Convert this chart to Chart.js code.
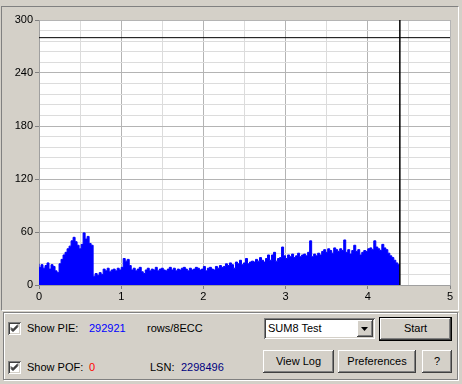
<!DOCTYPE html>
<html>
<head>
<meta charset="utf-8">
<script src="https://cdn.jsdelivr.net/npm/chart.js@4"></script>
<style>
  html, body { margin: 0; padding: 0; }
  body { width: 462px; height: 384px; background: #d4d0c8; position: relative; overflow: hidden;
         font: 11px "Liberation Sans", Arial, sans-serif; color: #000; }
  .abs { position: absolute; }
  #chartPanel { left: 1px; top: 6px; width: 456px; height: 303px;
                border-top: 1px solid #808080; border-left: 1px solid #808080;
                border-right: 1px solid #fff; border-bottom: 1px solid #fff; }
  #ctrlPanel { left: 3px; top: 312px; width: 453px; height: 66px;
               border: 1px solid #808080; box-shadow: inset 1px 1px 0 #fff, 1px 1px 0 #fff; }
  canvas { position: absolute; left: 0; top: 0; }
  .chk { width: 13px; height: 13px; background: #fff; box-sizing: border-box;
         box-shadow: inset 1px 1px 0 #808080, inset -1px -1px 0 #fff, inset 2px 2px 0 #404040, inset -2px -2px 0 #d4d0c8; }
  .chk svg { position: absolute; left: 0; top: 0; }
  .lbl { line-height: 13px; white-space: nowrap; }
  .btn { box-sizing: border-box; background: #d4d0c8; text-align: center; line-height: 23px;
         box-shadow: inset -1px -1px 0 #404040, inset 1px 1px 0 #fff, inset -2px -2px 0 #808080, inset 2px 2px 0 #d4d0c8; }
  .btn.def { border: 1px solid #000; line-height: 21px; }
  .combo { box-sizing: border-box; background: #fff;
           box-shadow: inset 1px 1px 0 #808080, inset -1px -1px 0 #fff, inset 2px 2px 0 #404040, inset -2px -2px 0 #d4d0c8; }
  .arrow { box-sizing: border-box; background: #d4d0c8;
           box-shadow: inset -1px -1px 0 #404040, inset 1px 1px 0 #fff, inset -2px -2px 0 #808080; }
</style>
</head>
<body>
<div id="chartPanel" class="abs"></div>
<canvas id="pieChart" width="462" height="310"></canvas>

<div id="ctrlPanel" class="abs"></div>

<div class="abs chk" style="left:8px; top:322px;"><svg width="13" height="13"><path d="M3 5.5 L5 7.5 L10 2.5 M3 6.5 L5 8.5 L10 3.5 M3 7.5 L5 9.5 L10 4.5" stroke="#000" stroke-width="1" fill="none"/></svg></div>
<div class="abs lbl" style="left:27px; top:322px;">Show PIE:</div>
<div class="abs lbl" id="pieTotal" style="left:89px; top:322px; color:#0000ff;"></div>
<div class="abs lbl" style="left:147px; top:322px;">rows/8ECC</div>

<div class="abs chk" style="left:8px; top:361px;"><svg width="13" height="13"><path d="M3 5.5 L5 7.5 L10 2.5 M3 6.5 L5 8.5 L10 3.5 M3 7.5 L5 9.5 L10 4.5" stroke="#000" stroke-width="1" fill="none"/></svg></div>
<div class="abs lbl" style="left:27px; top:361px;">Show POF:</div>
<div class="abs lbl" id="pofTotal" style="left:89px; top:361px; color:#ff0000;"></div>
<div class="abs lbl" style="left:150px; top:361px;">LSN:</div>
<div class="abs lbl" id="lsnValue" style="left:181px; top:361px; color:#000080;"></div>

<div class="abs combo" style="left:264px; top:318px; width:111px; height:21px;">
  <div class="abs lbl" id="testName" style="left:4px; top:4px;"></div>
  <div class="abs arrow" style="left:93px; top:2px; width:16px; height:17px;">
    <svg class="abs" style="left:4px; top:7px;" width="7" height="4"><path d="M0 0 H7 L3.5 4 Z" fill="#000"/></svg>
  </div>
</div>
<div class="abs btn def" style="left:379px; top:317px; width:73px; height:24px;">Start</div>
<div class="abs btn" style="left:263px; top:350px; width:71px; height:23px;">View Log</div>
<div class="abs btn" style="left:338px; top:350px; width:78px; height:23px;">Preferences</div>
<div class="abs btn" style="left:422px; top:350px; width:30px; height:23px;">?</div>

<script>
// --- DATA ---
const xTickLabels = [0, 1, 2, 3, 4, 5];
const yTickLabels = [0, 60, 120, 180, 240, 300];
const scanEnd = 4.39;      // position where the scan stopped (vertical marker)
const pieLimit = 280;      // horizontal limit line

// PIE per sample, start of disc -> scanEnd
const pieValues = [
  24, 20, 23, 19, 22, 25, 18, 23, 21, 16, 14, 24, 29, 34, 37, 41, 44, 50, 54, 49,
  45, 41, 46, 59, 52, 55, 47, 45, 10, 13, 11, 14, 12, 18, 16, 19, 15, 17, 18, 16,
  19, 17, 20, 30, 27, 29, 22,
  17, 19, 16, 18, 20, 15, 13, 17, 19, 16, 18, 17, 20, 16, 18, 19, 17, 16, 18, 20,
  17, 19, 16, 18, 17, 19, 20, 18, 16, 19, 17, 18, 20, 19, 17, 18, 21, 16, 19, 20,
  18, 17, 21, 19, 22, 20,
  21, 24, 22, 25, 23, 19, 26, 24, 28, 23, 25, 30, 24, 26, 27,
  26, 29, 27, 31, 28, 26, 30, 34, 28, 34, 37, 27, 30,
  31, 43, 33, 30, 34, 32, 35, 31, 33, 36, 32, 34, 35, 33, 37, 50,
  32, 35, 33, 36, 34,
  38, 40, 37, 41, 39, 36, 42, 40, 38, 41, 39,
  51,
  37, 40, 35, 39, 45, 38, 40, 34, 37, 39, 38,
  41, 42, 40, 50, 43, 41, 39, 46, 42, 40,
  36, 33, 31, 28, 25, 23
];

const pieTotal = "292921";
const pofTotal = "0";
const lsnValue = "2298496";
const testName = "SUM8 Test";

document.getElementById("pieTotal").innerText = pieTotal;
document.getElementById("pofTotal").innerText = pofTotal;
document.getElementById("lsnValue").innerText = lsnValue;
document.getElementById("testName").innerText = testName;

// samples are evenly spread from 0 to scanEnd
const piePoints = pieValues.map((v, i) => ({ x: i * scanEnd / (pieValues.length - 1), y: v }));

const xMax = xTickLabels[xTickLabels.length - 1];
const yMax = yTickLabels[yTickLabels.length - 1];

// white plot background
const plotBg = {
  id: "plotBg",
  beforeDraw(chart) {
    const a = chart.chartArea;
    const c = chart.ctx;
    c.save();
    c.fillStyle = "#ffffff";
    c.fillRect(a.left, a.top, a.right - a.left, a.bottom - a.top);
    c.restore();
  }
};

const font = { family: "'Liberation Sans', Arial, sans-serif", size: 11 };

new Chart(document.getElementById("pieChart").getContext("2d"), {
  type: "line",
  data: {
    datasets: [
      {
        data: piePoints,
        stepped: "after",
        fill: "origin",
        backgroundColor: "#0000ff",
        borderColor: "#0000ff",
        borderWidth: 1,
        pointRadius: 0,
        order: 2
      },
      {
        data: [{ x: 0, y: pieLimit }, { x: xMax, y: pieLimit }],
        borderColor: "#000000",
        borderWidth: 1,
        pointRadius: 0,
        fill: false,
        order: 1
      },
      {
        data: [{ x: scanEnd, y: 0 }, { x: scanEnd, y: yMax }],
        borderColor: "#000000",
        borderWidth: 1.5,
        pointRadius: 0,
        fill: false,
        order: 1
      }
    ]
  },
  options: {
    responsive: false,
    animation: false,
    devicePixelRatio: 1,
    layout: { padding: { top: 20, right: 12, left: 0, bottom: 0 } },
    plugins: { legend: { display: false }, tooltip: { enabled: false } },
    scales: {
      x: {
        type: "linear",
        min: 0,
        max: xMax,
        afterFit: (s) => { s.height = 25; },
        ticks: {
          stepSize: 0.5,
          autoSkip: false,
          maxRotation: 0,
          padding: 1,
          color: "#000",
          font: font,
          callback: (v) => xTickLabels.includes(v) ? v : ""
        },
        grid: {
          color: (c) => Number.isInteger(c.tick.value) ? "#b4b4b4" : "#dcdcdc",
          tickColor: (c) => Number.isInteger(c.tick.value) ? "#808080" : "rgba(0,0,0,0)",
          tickLength: 4
        },
        border: { color: "#a0a0a0" }
      },
      y: {
        min: 0,
        max: yMax,
        afterFit: (s) => { s.width = 39; },
        ticks: {
          stepSize: 12,
          autoSkip: false,
          padding: 2,
          color: "#000",
          font: font,
          callback: (v) => yTickLabels.includes(v) ? v : ""
        },
        grid: {
          color: (c) => yTickLabels.includes(c.tick.value) ? "#b4b4b4" : "#dcdcdc",
          tickColor: (c) => yTickLabels.includes(c.tick.value) ? "#808080" : "rgba(0,0,0,0)",
          tickLength: 4
        },
        border: { color: "#a0a0a0" }
      }
    }
  },
  plugins: [plotBg]
});
</script>
</body>
</html>
